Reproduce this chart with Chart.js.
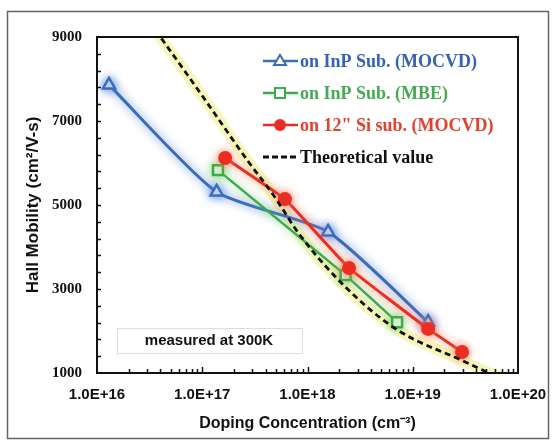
<!DOCTYPE html>
<html>
<head>
<meta charset="utf-8">
<script src="https://cdn.jsdelivr.net/npm/chart.js@4.4.1/dist/chart.umd.min.js"></script>
<style>
  body { margin: 0; background: #fff; }
  canvas { display: block; }
</style>
</head>
<body>
<canvas id="mainChart" width="555" height="445"></canvas>
<script>
// Data
const decades = [16, 17, 18, 19, 20];
const xTickLabels = ["1.0E+16", "1.0E+17", "1.0E+18", "1.0E+19", "1.0E+20"];
const yTickLabels = [1000, 3000, 5000, 7000, 9000];

const mocvdX = [1.3e16, 1.37e17, 1.57e18, 1.4e19];
const mocvdY = [7860, 5310, 4360, 2210];

const mbeX = [1.41e17, 2.3e18, 7.1e18];
const mbeY = [5830, 3330, 2210];

const siX = [1.65e17, 6.1e17, 2.48e18, 1.4e19, 2.94e19];
const siY = [6120, 5140, 3500, 2050, 1500];

const theoryX = [3.16e16, 4e16, 1e17, 2.8e17, 4.7e17, 8.5e17, 2.4e18, 7.1e18, 3e19, 5.4e19, 1e20];
const theoryY = [9350, 9000, 7600, 6000, 5250, 4280, 3000, 2030, 1290, 1000, 820];

const legendNames = ["on InP Sub. (MOCVD)", "on InP Sub. (MBE)", "on 12\" Si sub. (MOCVD)", "Theoretical value"];
const note = "measured at 300K";

// Colours
const blue = "rgb(58,108,190)";
const green = "rgb(60,170,75)";
const red = "rgb(235,45,35)";

const pts = (xs, ys) => xs.map((x, i) => ({ x: x, y: ys[i] }));

// glow behind lines + inward ticks, frame, legend, note
const decorPlugin = {
    id: "decor",
    beforeDatasetDraw(chart, args) {
        const ds = chart.data.datasets[args.index];
        const ctx = chart.ctx;
        ctx.save();
        if (ds.glow) {
            ctx.shadowColor = ds.glow;
            ctx.shadowBlur = 10;
        }
    },
    afterDatasetDraw(chart) {
        chart.ctx.restore();
    },
    beforeDraw(chart) {
        const ctx = chart.ctx;
        ctx.save();
        ctx.strokeStyle = "#666";
        ctx.lineWidth = 1.5;
        ctx.strokeRect(7.5, 11.5, 541, 427);
        ctx.restore();
    },
    afterDraw(chart) {
        const ctx = chart.ctx;
        const a = chart.chartArea;
        const xs = chart.scales.x;
        const ys = chart.scales.y;
        ctx.save();
        ctx.strokeStyle = "#111";
        ctx.lineWidth = 2;
        ctx.strokeRect(a.left, a.top, a.right - a.left, a.bottom - a.top);

        ctx.lineWidth = 1.5;
        xs.ticks.forEach(t => {
            const px = Math.round(xs.getPixelForValue(t.value)) + 0.5;
            if (px <= a.left + 1 || px >= a.right - 1) return;
            const len = t.major ? 6 : 4;
            ctx.beginPath();
            ctx.moveTo(px, a.bottom);
            ctx.lineTo(px, a.bottom - len);
            ctx.stroke();
        });
        ys.ticks.forEach(t => {
            const py = Math.round(ys.getPixelForValue(t.value)) + 0.5;
            if (py <= a.top + 1 || py >= a.bottom - 1) return;
            ctx.beginPath();
            ctx.moveTo(a.left, py);
            ctx.lineTo(a.left + 4, py);
            ctx.stroke();
        });

        // "measured at 300K" box
        ctx.fillStyle = "#fff";
        ctx.strokeStyle = "#ddd";
        ctx.lineWidth = 1;
        ctx.fillRect(117, 328, 185, 25);
        ctx.strokeRect(117.5, 328.5, 185, 25);
        ctx.fillStyle = "#111";
        ctx.font = "bold 15px 'Liberation Sans', Arial, sans-serif";
        ctx.textAlign = "center";
        ctx.textBaseline = "middle";
        ctx.fillText(note, 209, 341);

        // legend
        const rows = [
            { y: 61, color: blue, text: "rgb(52,98,180)", marker: "tri" },
            { y: 93, color: green, text: "rgb(70,170,80)", marker: "sq" },
            { y: 125, color: red, text: "rgb(225,65,45)", marker: "dot" },
            { y: 157, color: "#111", text: "#111", marker: "dash" }
        ];
        ctx.textAlign = "left";
        ctx.font = "bold 18px 'Liberation Serif', 'Times New Roman', serif";
        rows.forEach((r, i) => {
            ctx.strokeStyle = r.color;
            ctx.lineWidth = 2.5;
            if (r.marker === "dash") {
                ctx.setLineDash([6, 3]);
                ctx.lineWidth = 3;
            }
            ctx.beginPath();
            ctx.moveTo(263, r.y);
            ctx.lineTo(298, r.y);
            ctx.stroke();
            ctx.setLineDash([]);
            ctx.lineWidth = 2;
            if (r.marker === "tri") {
                ctx.fillStyle = "#fff";
                ctx.beginPath();
                ctx.moveTo(280, r.y - 6);
                ctx.lineTo(286, r.y + 4);
                ctx.lineTo(274, r.y + 4);
                ctx.closePath();
                ctx.fill();
                ctx.stroke();
            } else if (r.marker === "sq") {
                ctx.fillStyle = "#fff";
                ctx.fillRect(275, r.y - 5, 10, 10);
                ctx.strokeRect(275, r.y - 5, 10, 10);
            } else if (r.marker === "dot") {
                ctx.fillStyle = r.color;
                ctx.beginPath();
                ctx.arc(280, r.y, 6, 0, Math.PI * 2);
                ctx.fill();
            }
            ctx.fillStyle = r.text;
            ctx.textBaseline = "middle";
            ctx.fillText(legendNames[i], 300, r.y + 1);
        });
        ctx.restore();
    }
};

const config = {
    type: "line",
    data: {
        datasets: [
            {
                label: "band",
                order: 5,
                data: pts(theoryX, theoryY),
                borderColor: "rgba(242,240,120,0.5)",
                borderWidth: 11,
                pointRadius: 0,
                cubicInterpolationMode: "monotone"
            },
            {
                label: legendNames[3],
                order: 1,
                data: pts(theoryX, theoryY),
                borderColor: "#111",
                borderWidth: 2.8,
                borderDash: [6, 4],
                pointRadius: 0,
                cubicInterpolationMode: "monotone"
            },
            {
                label: legendNames[0],
                order: 4,
                data: pts(mocvdX, mocvdY),
                borderColor: blue,
                glow: "rgba(80,130,220,0.95)",
                borderWidth: 3,
                pointStyle: "triangle",
                pointRadius: 7,
                pointBorderWidth: 2.5,
                pointBackgroundColor: "#fff",
                pointBorderColor: blue,
                tension: 0.2
            },
            {
                label: legendNames[1],
                order: 3,
                data: pts(mbeX, mbeY),
                borderColor: green,
                glow: "rgba(120,210,110,0.95)",
                borderWidth: 2.5,
                pointStyle: "rect",
                pointRadius: 7,
                pointBorderWidth: 2.5,
                pointBackgroundColor: "#fff",
                pointBorderColor: green,
                tension: 0
            },
            {
                label: legendNames[2],
                order: 2,
                data: pts(siX, siY),
                borderColor: red,
                glow: "rgba(255,120,80,0.95)",
                borderWidth: 3,
                pointStyle: "circle",
                pointRadius: 7,
                pointBorderWidth: 0,
                pointBackgroundColor: red,
                tension: 0.1
            }
        ]
    },
    options: {
        responsive: false,
        animation: false,
        devicePixelRatio: 1,
        layout: { padding: { left: 0, top: 37, right: 37, bottom: 0 } },
        plugins: {
            legend: { display: false },
            tooltip: { enabled: false }
        },
        scales: {
            x: {
                type: "logarithmic",
                min: 1e16,
                max: 1e20,
                afterBuildTicks(scale) {
                    const t = [];
                    decades.forEach((d, i) => {
                        const top = i === decades.length - 1 ? 1 : 9;
                        for (let m = 1; m <= top; m++) t.push({ value: m * Math.pow(10, d), major: m === 1 });
                    });
                    scale.ticks = t;
                },
                afterFit(scale) { scale.height = 72; },
                grid: { display: false },
                border: { display: false },
                ticks: {
                    autoSkip: false,
                    maxRotation: 0,
                    padding: 5,
                    color: "#111",
                    font: { family: "'Liberation Sans', Arial, sans-serif", size: 15, weight: "bold" },
                    callback(v) {
                        const e = Math.round(Math.log10(v));
                        const i = decades.indexOf(e);
                        return Math.abs(v - Math.pow(10, e)) < 1 && i >= 0 ? xTickLabels[i] : "";
                    }
                },
                title: {
                    display: true,
                    text: "Doping Concentration (cm\u207B\u00B3)",
                    color: "#111",
                    font: { family: "'Liberation Sans', Arial, sans-serif", size: 16, weight: "bold" },
                    padding: { top: 0, bottom: 12 }
                }
            },
            y: {
                min: 1000,
                max: 9000,
                afterFit(scale) { scale.width = 97; },
                grid: { display: false },
                border: { display: false },
                ticks: {
                    stepSize: 400,
                    autoSkip: false,
                    padding: 7,
                    color: "#111",
                    font: { family: "'Liberation Serif', 'Times New Roman', serif", size: 15, weight: "bold" },
                    callback(v) { return yTickLabels.includes(v) ? String(v) : ""; }
                },
                title: {
                    display: true,
                    text: "Hall Mobility (cm\u00B2/V-s)",
                    color: "#111",
                    font: { family: "'Liberation Sans', Arial, sans-serif", size: 17, weight: "bold" },
                    padding: { top: 23, bottom: 0 }
                }
            }
        }
    },
    plugins: [decorPlugin]
};

const myChart = new Chart(document.getElementById("mainChart"), config);
</script>
</body>
</html>
